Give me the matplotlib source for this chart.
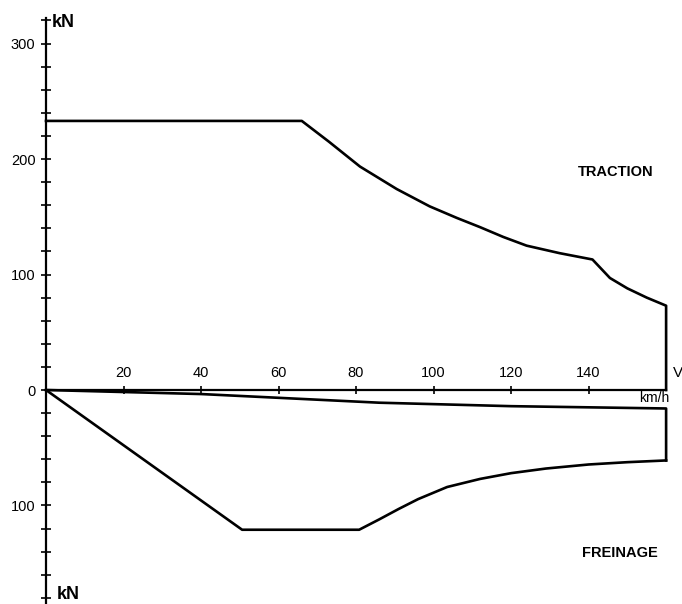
import matplotlib.pyplot as plt
import numpy as np

# speed in km/h, force in kN (braking drawn negative)
traction_speed = [0, 66, 73, 81, 90.5, 99, 106, 112, 118, 124, 132.5,
                  141, 145.5, 150, 155, 160, 160]
traction_force = [233, 233, 215, 193.5, 174, 159, 149, 141, 132.5, 125,
                  118.5, 113, 97, 88, 80, 73, 0]

braking_speed = [0, 50.6, 80.8, 86, 91, 96, 103.5, 112, 120, 129, 140,
                 150, 160]
braking_force = [0, -121, -121, -112, -103, -94.5, -84, -77, -72, -68,
                 -64.5, -62.5, -61]

resistance_speed = [0, 40, 86, 120, 160, 160]
resistance_force = [0, -3.5, -11, -14, -16, -61]

x_ticks = [20, 40, 60, 80, 100, 120, 140]
y_ticks = [-100, 0, 100, 200, 300]
y_tick_labels = ["100", "0", "100", "200", "300"]

FONT = "Liberation Sans"


def setup_axes(ax: plt.Axes) -> None:
    ax.set_xlim(-11.87, 164.1)
    ax.set_ylim(-185.3, 337.7)
    for side in ("top", "right"):
        ax.spines[side].set_visible(False)
    ax.spines["left"].set_position(("data", 0))
    ax.spines["bottom"].set_position(("data", 0))
    ax.spines["left"].set_bounds(-185.3, 322)
    ax.spines["bottom"].set_bounds(0, 160)
    ax.spines["left"].set_linewidth(1.6)
    ax.spines["bottom"].set_linewidth(1.6)

    ax.set_yticks(y_ticks)
    ax.set_yticklabels(y_tick_labels, fontfamily=FONT, fontsize=10.5)
    ax.set_yticks(np.arange(-180, 321, 20), minor=True)
    ax.tick_params(axis="y", which="both", direction="inout", length=7,
                   width=1.2, pad=4)

    ax.set_xticks(x_ticks)
    ax.set_xticklabels([])
    ax.tick_params(axis="x", which="both", direction="inout", length=6,
                   width=1.2)
    for v in x_ticks:
        ax.annotate(str(v), (v, 0), xytext=(0, 7), textcoords="offset points",
                    ha="center", va="bottom", fontfamily=FONT, fontsize=10.5,
                    fontweight="medium")


def main():
    fig = plt.figure(figsize=(6.82, 6.04), dpi=100)
    ax = fig.add_axes([0, 0, 1, 1])
    setup_axes(ax)

    line = dict(color="black", linewidth=1.9, solid_joinstyle="round")
    ax.plot(traction_speed, traction_force, **line)
    ax.plot(braking_speed, braking_force, **line)
    ax.plot(resistance_speed, resistance_force, **line)

    bold = dict(fontfamily=FONT, fontweight="bold")
    ax.text(1.6, 318, "kN", ha="left", va="center", fontsize=13, **bold)
    ax.text(2.8, -177, "kN", ha="left", va="center", fontsize=13, **bold)
    ax.text(163, 15, "V", ha="center", va="center", fontsize=11,
            fontfamily=FONT)
    ax.text(157, -7, "km/h", ha="center", va="center", fontsize=10,
            fontfamily=FONT, fontweight="medium")
    ax.text(147, 189, "TRACTION", ha="center", va="center", fontsize=10.5,
            **bold)
    ax.text(148, -141, "FREINAGE", ha="center", va="center", fontsize=10.5,
            **bold)

    fig.savefig("out.png", dpi=100)
    plt.close(fig)


if __name__ == "__main__":
    main()
